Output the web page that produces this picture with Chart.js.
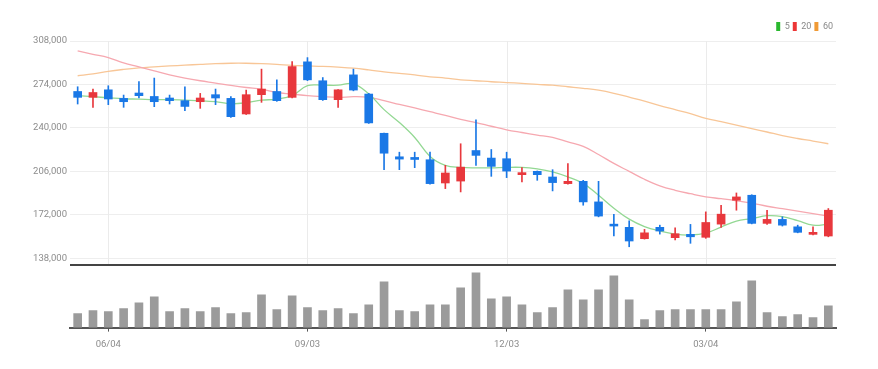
<!DOCTYPE html>
<html>
<head>
<meta charset="utf-8">
<script src="https://cdn.jsdelivr.net/npm/chart.js@4.4.0/dist/chart.umd.min.js"></script>
<style>
  html, body { margin: 0; padding: 0; background: #fff; }
  #wrap { width: 878px; height: 369px; }
</style>
</head>
<body>
<div id="wrap"><canvas id="myChart"></canvas></div>
<script>
// Weekly candles
const labels = ['05/21','05/28','06/04','06/11','06/18','06/25','07/02','07/09','07/16','07/23',
  '07/30','08/06','08/13','08/20','08/27','09/03','09/10','09/17','09/24','10/01',
  '10/08','10/15','10/22','10/29','11/05','11/12','11/19','11/26','12/03','12/10',
  '12/17','12/24','12/31','01/07','01/14','01/21','01/28','02/04','02/11','02/18',
  '02/25','03/04','03/11','03/18','03/25','04/01','04/08','04/15','04/22','04/29'];
const shownLabels = ['06/04', '09/03', '12/03', '03/04'];

const opens = [268500,263900,269800,263100,267300,264600,263400,261300,260500,266000,
  263100,250900,266000,268500,263900,291700,276900,262100,281500,266500,
  235800,217400,216900,215100,196900,198400,222300,216400,215900,203400,
  206000,201600,196400,198200,182100,164700,162200,153300,162200,154100,
  156700,154400,164700,183400,187300,165300,168400,162600,156700,155400];
const highs = [272200,270400,273000,265700,276300,279000,265700,272200,267000,270400,
  264600,269600,286000,277600,291900,295000,279400,270000,286000,267000,
  236000,221000,221000,221000,210700,227600,246300,223100,221000,208900,
  206300,207300,212000,199000,198200,172300,167300,160600,163900,161800,
  164500,174300,179500,189100,187700,175600,170400,163900,162600,176900];
const lows = [258700,256100,258200,256100,263400,256600,258700,253500,255300,258200,
  248300,250500,260000,260800,263500,277000,261500,256100,269000,243500,
  207300,207300,208900,196000,192500,189900,210700,202100,201100,197700,
  199000,190700,196000,179500,170400,155400,147000,153000,156900,152300,
  149700,153600,162200,175600,164900,164500,163200,157900,156200,154800];
const closes = [263900,267700,262600,260500,265200,260500,261300,256800,263400,263400,
  248800,266000,270400,261300,288000,277600,262100,269800,269600,243900,
  220200,215600,215300,196400,204700,209300,218500,209900,206200,205000,
  203400,197200,198200,182100,171000,163200,151500,157900,159300,157200,
  154800,166000,172500,186000,165300,168400,163900,158300,158300,175600];
const volumes = [14000,17000,16000,19000,25000,31000,16000,19000,16000,20000,
  14000,15000,33000,18000,32000,20000,17000,19000,14000,23000,
  46000,17000,16000,23000,23000,40000,55000,29000,31000,23000,
  15000,20000,38000,28000,38000,52000,28000,8000,17000,18000,
  18000,18000,18000,26000,47000,15000,11000,13000,10000,22000];

// Moving averages
const ma5 = [265200,264400,263600,262800,262500,262100,262100,261700,261300,260500,
  258900,259700,261700,262500,265200,273000,273400,273400,274500,266700,
  254300,244200,232500,217700,210700,209100,208700,208700,209100,209100,
  207900,205600,201700,196600,187300,177200,168600,162800,159300,156900,
  156200,157700,162400,167100,169000,171300,170600,167400,163900,164700];
const ma20 = [300200,297600,295000,290900,287800,284600,281500,279000,276900,275100,
  273200,271600,270400,267700,266500,265200,264400,263900,264400,263900,
  261300,258400,255600,252700,249800,246700,244200,241300,238500,236400,
  234400,232500,229000,225500,219200,212200,206000,199800,194700,191200,
  188500,186100,184600,183000,181100,178700,176800,174900,172900,171000];
const ma60 = [280800,282300,284300,285800,287000,287800,288500,289100,289700,290300,
  290600,290600,290300,289700,288900,288500,288100,287500,286700,285400,
  283900,282700,281500,280000,279000,277600,276900,276100,275500,274800,
  274000,273400,272200,271000,269500,267100,264000,260900,257400,254300,
  251200,247500,244900,242200,239500,236800,234000,231700,229700,227600];

const yTicks = [138000, 172000, 206000, 240000, 274000, 308000];

const UP = '#e8383d';
const DOWN = '#1a78e6';
const candleColors = closes.map((c, i) => (c >= opens[i] ? UP : DOWN));
const legendColors = ['#29b82e', '#ec3535', '#f09a35'];
const axisFont = { family: "'Liberation Sans Narrow', 'Roboto', sans-serif", size: 9.5 };

// light vertical guides at labelled weeks + divider between price and volume panes
const panelLines = {
  id: 'panelLines',
  beforeDatasetsDraw(chart) {
    const { ctx, scales: { x, y } } = chart;
    ctx.save();
    ctx.strokeStyle = '#ebebeb';
    ctx.lineWidth = 1;
    labels.forEach((lab, i) => {
      if (!shownLabels.includes(lab)) return;
      const px = Math.round(x.getPixelForValue(i)) + 0.5;
      ctx.beginPath();
      ctx.moveTo(px, y.top);
      ctx.lineTo(px, y.bottom);
      ctx.stroke();
    });
    ctx.restore();
  },
  afterDatasetsDraw(chart) {
    const { ctx, chartArea, scales: { y } } = chart;
    ctx.save();
    ctx.strokeStyle = '#444';
    ctx.lineWidth = 2;
    ctx.beginPath();
    ctx.moveTo(chartArea.left, y.bottom);
    ctx.lineTo(chartArea.right, y.bottom);
    ctx.stroke();
    ctx.restore();
  }
};

const ctx = document.getElementById('myChart').getContext('2d');

const myChart = new Chart(ctx, {
  type: 'bar',
  data: {
    labels: labels,
    datasets: [
      { type: 'line', label: '5', data: ma5, yAxisID: 'y', borderColor: '#93d893',
        backgroundColor: legendColors[0], borderWidth: 1.3, pointRadius: 0, tension: 0.4, order: 2 },
      { type: 'line', label: '20', data: ma20, yAxisID: 'y', borderColor: '#f6a8b0',
        backgroundColor: legendColors[1], borderWidth: 1.3, pointRadius: 0, tension: 0.4, order: 2 },
      { type: 'line', label: '60', data: ma60, yAxisID: 'y', borderColor: '#f8c697',
        backgroundColor: legendColors[2], borderWidth: 1.3, pointRadius: 0, tension: 0.4, order: 2 },
      { label: 'wick', data: lows.map((l, i) => [l, highs[i]]), yAxisID: 'y',
        backgroundColor: candleColors, barThickness: 1, grouped: false, borderWidth: 0, order: 1 },
      { label: 'body', data: opens.map((o, i) => [o, closes[i]]), yAxisID: 'y',
        backgroundColor: candleColors, barThickness: 8, grouped: false, borderWidth: 0, order: 1 },
      { label: 'volume', data: volumes, yAxisID: 'yVol',
        backgroundColor: '#9b9b9b', barThickness: 8, grouped: false, borderWidth: 0, order: 1 }
    ]
  },
  options: {
    responsive: true,
    maintainAspectRatio: false,
    animation: false,
    layout: { padding: { top: 19, right: 42, bottom: 12, left: 0 } },
    plugins: {
      tooltip: { enabled: false },
      legend: {
        position: 'top',
        align: 'end',
        labels: {
          boxWidth: 4,
          boxHeight: 9,
          padding: 3,
          color: '#888',
          font: { family: axisFont.family, size: 9 },
          generateLabels: (chart) => chart.data.datasets.slice(0, 3).map((ds, i) => ({
            text: ds.label, fillStyle: legendColors[i], strokeStyle: legendColors[i],
            lineWidth: 0, fontColor: '#888', hidden: false, datasetIndex: i
          }))
        }
      }
    },
    scales: {
      x: {
        grid: { drawOnChartArea: false, drawTicks: true, tickLength: 4, color: '#555', offset: false },
        border: { display: true, color: '#555', width: 2 },
        ticks: {
          autoSkip: false, maxRotation: 0, padding: 7, color: '#8c8c8c', font: axisFont,
          callback: (v, i) => (shownLabels.includes(labels[i]) ? labels[i] : null)
        }
      },
      yVol: {
        position: 'left', stack: 'panes', stackWeight: 63, weight: 1,
        min: 0, max: 63000,
        ticks: { display: false },
        grid: { display: false },
        border: { display: false },
        afterFit: (s) => { s.width = 70; }
      },
      y: {
        position: 'left', stack: 'panes', stackWeight: 225, weight: 2,
        min: 132800, max: 308000,
        afterBuildTicks: (s) => { s.ticks = yTicks.map(v => ({ value: v })); },
        ticks: {
          padding: 3, color: '#8c8c8c', font: axisFont,
          callback: (v) => v.toLocaleString('en-US')
        },
        grid: { color: '#eeeeee', drawTicks: false },
        border: { display: false },
        afterFit: (s) => { s.width = 70; }
      }
    }
  },
  plugins: [panelLines]
});
</script>
</body>
</html>
